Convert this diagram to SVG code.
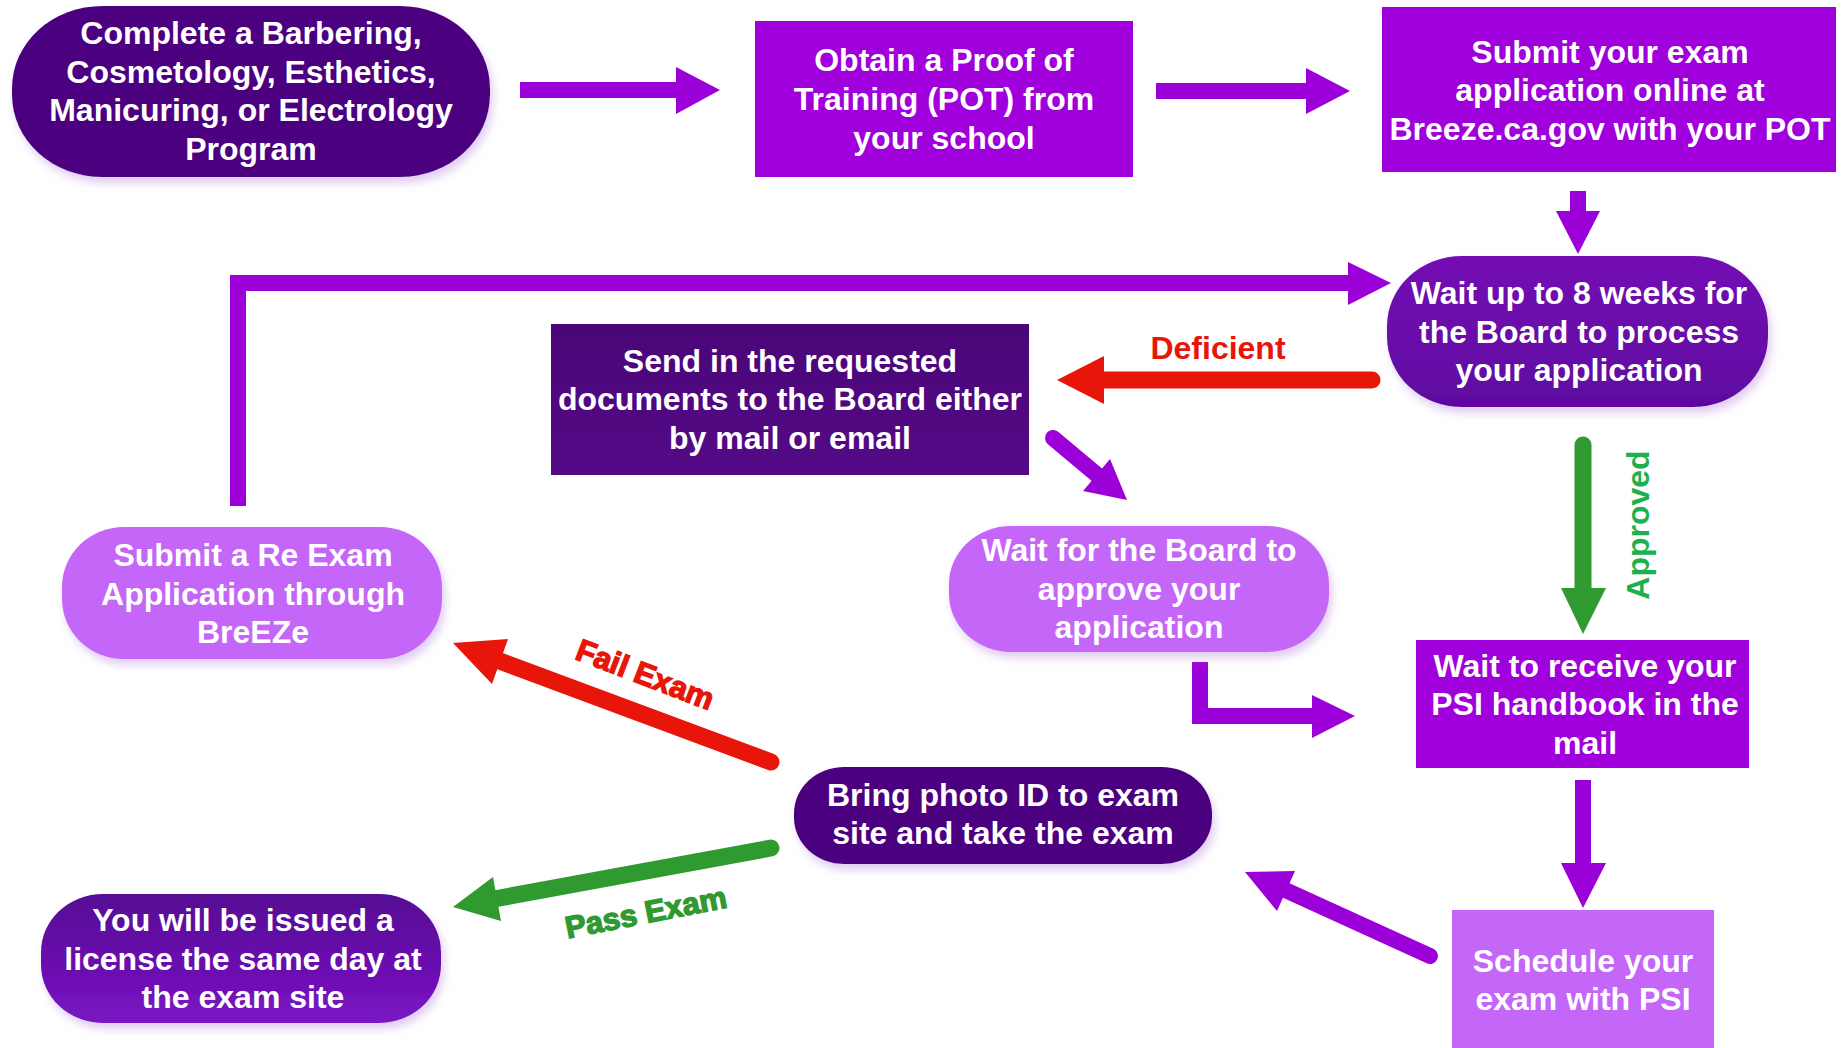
<svg xmlns="http://www.w3.org/2000/svg" width="1841" height="1048" viewBox="0 0 1841 1048">
<defs>
<style>
.t{font-family:"Liberation Sans",Arial,sans-serif;font-weight:bold;font-size:32px;fill:#fff;text-anchor:middle}
.lbl{font-family:"Liberation Sans",Arial,sans-serif;font-weight:bold;text-anchor:middle}
.heavy{stroke-width:1.4;paint-order:stroke}
.dark{fill:#4c0480}
.bright{fill:#a000dc}
.light{fill:#c466f7}
.sp{stroke:#9b00d9;stroke-width:16;fill:none}
.sr{stroke:#e8160a;stroke-width:17;fill:none;stroke-linecap:round}
.sg{stroke:#2f9a2f;stroke-width:17;fill:none;stroke-linecap:round}
.hp{fill:#9b00d9}
.hr{fill:#e8160a}
.hg{fill:#2f9a2f}
</style>
<filter id="sh" x="-10%" y="-10%" width="130%" height="140%">
<feDropShadow dx="3" dy="6" stdDeviation="4" flood-color="#c8a2e6" flood-opacity="0.55"/>
</filter>
<linearGradient id="g4" x1="0" y1="0" x2="0" y2="1">
<stop offset="0" stop-color="#7410b4"/>
<stop offset="1" stop-color="#5e06a0"/>
</linearGradient>
<linearGradient id="g11" x1="0" y1="0" x2="0" y2="1">
<stop offset="0" stop-color="#560894"/>
<stop offset="1" stop-color="#7a14c4"/>
</linearGradient>
<linearGradient id="g5" x1="0" y1="0" x2="0" y2="1">
<stop offset="0" stop-color="#4a0678"/>
<stop offset="1" stop-color="#540a86"/>
</linearGradient>
</defs>
<rect width="1841" height="1048" fill="#ffffff"/>

<g id="connectors">
<line class="sp" x1="520" y1="90" x2="678" y2="90"/>
<polygon class="hp" points="676,67 720,90 676,114"/>
<line class="sp" x1="1156" y1="91" x2="1308" y2="91"/>
<polygon class="hp" points="1306,68 1350,91 1306,114"/>
<line class="sp" x1="1578" y1="191" x2="1578" y2="213"/>
<polygon class="hp" points="1556,211 1578,254 1600,211"/>
<polyline class="sp" points="238,506 238,283 1350,283"/>
<polygon class="hp" points="1348,262 1391,283 1348,305"/>
<line class="sr" x1="1372" y1="380" x2="1102" y2="380" stroke-linecap="butt"/>
<polygon class="hr" points="1104,356 1057,380 1104,404"/>
<line class="sp" x1="1053" y1="438" x2="1102" y2="479" stroke-width="15" stroke-linecap="round"/>
<polygon class="hp" points="1083,491 1127,500 1110,459"/>
<line class="sg" x1="1583" y1="445" x2="1583" y2="590" stroke-linecap="butt"/>
<polygon class="hg" points="1561,588 1583,634 1606,588"/>
<polyline class="sp" points="1200,662 1200,716 1314,716"/>
<polygon class="hp" points="1312,695 1355,716 1312,738"/>
<line class="sp" x1="1583" y1="780" x2="1583" y2="865"/>
<polygon class="hp" points="1561,863 1583,908 1606,863"/>
<line class="sp" x1="1430" y1="956" x2="1283" y2="889" stroke-width="17" stroke-linecap="round"/>
<polygon class="hp" points="1295,871 1245,872 1277,911"/>
<line class="sr" x1="771" y1="762" x2="497" y2="660"/>
<polygon class="hr" points="508,639 453,643 492,684"/>
<line class="sg" x1="771" y1="848" x2="494" y2="899"/>
<polygon class="hg" points="501,921 453,907 493,877"/>
<text class="lbl" x="1218" y="359" font-size="32" fill="#e8160a">Deficient</text>
<text class="lbl" transform="translate(1649,525) rotate(-90)" font-size="32" fill="#1db04f">Approved</text>
<text class="lbl heavy" transform="translate(645,675) rotate(21)" y="10" font-size="31" fill="#e8160a" stroke="#e8160a">Fail Exam</text>
<text class="lbl heavy" transform="translate(646,913) rotate(-11)" y="10" font-size="31" fill="#2f9a2f" stroke="#2f9a2f">Pass Exam</text>
</g>

<g id="n1">
<rect class="dark" x="12" y="6" width="478" height="171" rx="90" ry="82" filter="url(#sh)"/>
<text class="t" x="251"><tspan x="251" y="44">Complete a Barbering,</tspan><tspan x="251" y="83">Cosmetology, Esthetics,</tspan><tspan x="251" y="121">Manicuring, or Electrology</tspan><tspan x="251" y="160">Program</tspan></text>
</g>
<g id="n2">
<rect class="bright" x="755" y="21" width="378" height="156"/>
<text class="t"><tspan x="944" y="71">Obtain a Proof of</tspan><tspan x="944" y="110">Training (POT) from</tspan><tspan x="944" y="149">your school</tspan></text>
</g>
<g id="n3">
<rect class="bright" x="1382" y="7" width="454" height="165"/>
<text class="t"><tspan x="1610" y="63">Submit your exam</tspan><tspan x="1610" y="101">application online at</tspan><tspan x="1610" y="140">Breeze.ca.gov with your POT</tspan></text>
</g>
<g id="n4">
<rect x="1387" y="256" width="381" height="151" rx="75" ry="70" fill="url(#g4)" filter="url(#sh)"/>
<text class="t"><tspan x="1579" y="304">Wait up to 8 weeks for</tspan><tspan x="1579" y="343">the Board to process</tspan><tspan x="1579" y="381">your application</tspan></text>
</g>
<g id="n5">
<rect x="551" y="324" width="478" height="151" fill="url(#g5)"/>
<text class="t"><tspan x="790" y="372">Send in the requested</tspan><tspan x="790" y="410">documents to the Board either</tspan><tspan x="790" y="449">by mail or email</tspan></text>
</g>
<g id="n6">
<rect class="light" x="949" y="526" width="380" height="126" rx="62" ry="58" filter="url(#sh)"/>
<text class="t"><tspan x="1139" y="561">Wait for the Board to</tspan><tspan x="1139" y="600">approve your</tspan><tspan x="1139" y="638">application</tspan></text>
</g>
<g id="n7">
<rect class="bright" x="1416" y="640" width="333" height="128"/>
<text class="t"><tspan x="1585" y="677">Wait to receive your</tspan><tspan x="1585" y="715">PSI handbook in the</tspan><tspan x="1585" y="754">mail</tspan></text>
</g>
<g id="n8">
<rect class="light" x="1452" y="910" width="262" height="150"/>
<text class="t"><tspan x="1583" y="972">Schedule your</tspan><tspan x="1583" y="1010">exam with PSI</tspan></text>
</g>
<g id="n9">
<rect class="dark" x="794" y="767" width="418" height="97" rx="50" ry="46" filter="url(#sh)"/>
<text class="t"><tspan x="1003" y="806">Bring photo ID to exam</tspan><tspan x="1003" y="844">site and take the exam</tspan></text>
</g>
<g id="n10">
<rect class="light" x="62" y="527" width="380" height="132" rx="62" ry="60" filter="url(#sh)"/>
<text class="t"><tspan x="253" y="566">Submit a Re Exam</tspan><tspan x="253" y="605">Application through</tspan><tspan x="253" y="643">BreEZe</tspan></text>
</g>
<g id="n11">
<rect x="41" y="894" width="400" height="129" rx="62" ry="58" fill="url(#g11)" filter="url(#sh)"/>
<text class="t"><tspan x="243" y="931">You will be issued a</tspan><tspan x="243" y="970">license the same day at</tspan><tspan x="243" y="1008">the exam site</tspan></text>
</g>
</svg>
